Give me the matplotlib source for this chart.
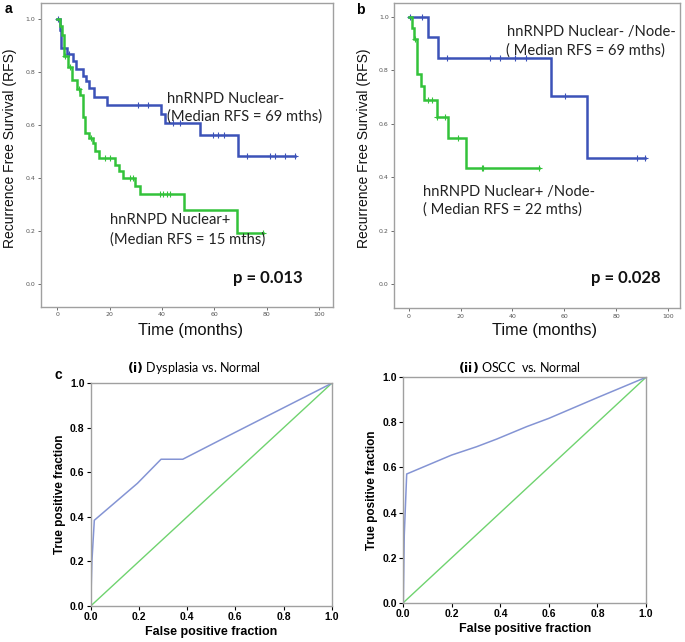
import numpy as np
import matplotlib
matplotlib.use("Agg")
import matplotlib.pyplot as plt

# ---------------- data ----------------
# Panel a: Kaplan-Meier, hnRNPD Nuclear- (blue) and Nuclear+ (green)
a_neg_t = [0, 1, 1.5, 3.6, 5.9, 7.2, 9.7, 10.9, 12.1, 14.1, 18.9, 39.5, 41.2, 54.5, 68.9]
a_neg_s = [1.0, 0.96, 0.89, 0.87, 0.84, 0.81, 0.785, 0.765, 0.738, 0.707, 0.677, 0.643, 0.609, 0.563, 0.483]
a_neg_end = 91
a_neg_cens = [0.5, 4.5, 31, 34.8, 44.3, 46.9, 59.6, 61.5, 63.7, 72.4, 81.3, 83.2, 87, 91]

a_pos_t = [0, 1.0, 1.8, 2.5, 4.2, 5.5, 7.6, 8.7, 9.7, 10.6, 12.2, 13.8, 14.6, 15.9, 22.0, 23.7, 25.0, 29.7, 31.8, 48.5, 68.8]
a_pos_s = [1.0, 0.975, 0.94, 0.86, 0.82, 0.77, 0.735, 0.715, 0.63, 0.57, 0.55, 0.53, 0.50, 0.475, 0.45, 0.425, 0.40, 0.37, 0.34, 0.28, 0.19]
a_pos_end = 78.7
a_pos_cens = [2.8, 4.8, 8.2, 13.0, 18.2, 20.0, 27.8, 29.0, 39.3, 40.5, 41.8, 43.0, 78.7]

# Panel b: Node- subgroup
b_neg_t = [0, 7.3, 11.3, 54.7, 68.8]
b_neg_s = [1.0, 0.923, 0.846, 0.705, 0.47]
b_neg_end = 91
b_neg_cens = [0.6, 5.1, 14.7, 31.2, 35.3, 41.0, 45.3, 60.3, 87.8, 91]

b_pos_t = [0, 1.3, 1.9, 3.2, 4.9, 5.8, 10.9, 15.0, 22.2]
b_pos_s = [1.0, 0.956, 0.915, 0.786, 0.74, 0.69, 0.623, 0.545, 0.433]
b_pos_end = 50.2
b_pos_cens = [2.3, 7.3, 9.0, 10.9, 14.1, 19.2, 28.2, 28.8, 50.2]

# Panel c: ROC curves
roc1_fpr = [0, 0.005, 0.015, 0.194, 0.292, 0.382, 0.6, 1.0]
roc1_tpr = [0, 0.2, 0.385, 0.551, 0.659, 0.659, 0.78, 1.0]
roc2_fpr = [0, 0.004, 0.014, 0.199, 0.302, 0.385, 0.508, 0.6, 0.8, 1.0]
roc2_tpr = [0, 0.3, 0.571, 0.655, 0.692, 0.726, 0.781, 0.818, 0.91, 1.0]
diag = [0, 1]

km_xticks = [0, 20, 40, 60, 80, 100]
km_yticks = [0.0, 0.2, 0.4, 0.6, 0.8, 1.0]
roc_ticks = [0.0, 0.2, 0.4, 0.6, 0.8, 1.0]

# ---------------- style ----------------
W, H = 685, 642
BLUE = "#3c52b8"
GREEN = "#33c23a"
RBLUE = "#8494d4"
RGREEN = "#6fd36f"
FRAME = "#a0a0a0"
ANN = "Lato"
ANNSIZE = 10.6

fig = plt.figure(figsize=(W / 100, H / 100), dpi=100)


def axes_px(l, t, r, b):
    return fig.add_axes([l / W, 1 - b / H, (r - l) / W, (b - t) / H])


def km_curve(ax, t, s, end, cens, color):
    tt = list(t) + [end]
    ss = list(s) + [s[-1]]
    ax.step(tt, ss, where="post", color=color, lw=1.8, solid_joinstyle="miter")
    cy = [s[np.searchsorted(t, c, side="right") - 1] for c in cens]
    ax.plot(cens, cy, ls="none", marker="+", ms=4, mew=0.8, color=color)


def km_style(ax, xlim, ylim):
    ax.set_xlim(*xlim)
    ax.set_ylim(*ylim)
    ax.set_xticks(km_xticks)
    ax.set_yticks(km_yticks)
    ax.set_yticklabels([f"{v:.1f}" for v in km_yticks])
    ax.tick_params(labelsize=4.5, labelcolor="#555555", color="#555555", length=2.5, width=0.6, pad=1.5)
    for sp in ax.spines.values():
        sp.set_color(FRAME)
        sp.set_linewidth(1.0)


def note(ax, x, y, s, **kw):
    ax.text(x, y, s, fontsize=ANNSIZE, family=ANN, va="center", ha="left", color="#222222", **kw)


# Panel a
axa = axes_px(40.7, 3.3, 333.3, 306.7)
km_curve(axa, a_neg_t, a_neg_s, a_neg_end, a_neg_cens, BLUE)
km_curve(axa, a_pos_t, a_pos_s, a_pos_end, a_pos_cens, GREEN)
km_style(axa, (-6.3, 105.5), (-0.087, 1.06))
note(axa, 41.9, 0.70, "hnRNPD Nuclear-")
note(axa, 41.9, 0.63, "(Median RFS = 69 mths)")
note(axa, 20.1, 0.24, "hnRNPD Nuclear+")
note(axa, 20.1, 0.166, "(Median RFS = 15 mths)")
axa.text(67.1, 0.023, "p = 0.013", fontsize=12, family=ANN, weight="bold", va="center", ha="left", color="#111111")

# Panel b
axb = axes_px(394.3, 3.3, 680, 308.3)
km_curve(axb, b_neg_t, b_neg_s, b_neg_end, b_neg_cens, BLUE)
km_curve(axb, b_pos_t, b_pos_s, b_pos_end, b_pos_cens, GREEN)
km_style(axb, (-5.5, 104.5), (-0.091, 1.05))
note(axb, 38.0, 0.943, "hnRNPD Nuclear- /Node-")
note(axb, 37.4, 0.875, "( Median RFS = 69 mths)")
note(axb, 5.6, 0.344, "hnRNPD Nuclear+ /Node-")
note(axb, 5.6, 0.277, "( Median RFS = 22 mths)")
axb.text(70.1, 0.022, "p = 0.028", fontsize=12, family=ANN, weight="bold", va="center", ha="left", color="#111111")


# KM axis labels (figure pixel coords)
def ftext(x, y, s, **kw):
    fig.text(x / W, 1 - y / H, s, **kw)


for x in (10, 364):
    ftext(x, 148, "Recurrence Free Survival (RFS)", fontsize=10, family="Liberation Sans",
          rotation=90, ha="center", va="center", color="#111111")
ftext(191, 331, "Time (months)", fontsize=11.8, family="Liberation Sans", ha="center", va="center", color="#111111")
ftext(545, 331, "Time (months)", fontsize=11.8, family="Liberation Sans", ha="center", va="center", color="#111111")

ftext(8, 9, "a", fontsize=10, weight="bold", family="Liberation Sans", ha="center", va="center")
ftext(360, 10, "b", fontsize=10, weight="bold", family="Liberation Sans", ha="center", va="center")
ftext(58, 375, "c", fontsize=10, weight="bold", family="Liberation Sans", ha="center", va="center")


def roc_style(ax):
    ax.set_xlim(0, 1)
    ax.set_ylim(0, 1)
    ax.set_xticks(roc_ticks)
    ax.set_yticks(roc_ticks)
    ax.set_xticklabels([f"{v:.1f}" for v in roc_ticks])
    ax.set_yticklabels([f"{v:.1f}" for v in roc_ticks])
    ax.tick_params(labelsize=7.5, length=3, width=0.8, pad=1.5)
    for lab in ax.get_xticklabels() + ax.get_yticklabels():
        lab.set_fontweight("bold")
        lab.set_family("Liberation Sans")
    for sp in ax.spines.values():
        sp.set_color(FRAME)
        sp.set_linewidth(1.0)
    ax.set_xlabel("False positive fraction", fontsize=9, weight="bold", family="Liberation Sans", labelpad=3)
    ax.set_ylabel("True positive fraction", fontsize=8.5, weight="bold", family="Liberation Sans", labelpad=3)


axc1 = axes_px(90.7, 383.3, 331.7, 606)
axc1.plot(diag, diag, color=RGREEN, lw=1.0)
axc1.plot(roc1_fpr, roc1_tpr, color=RBLUE, lw=1.1)
roc_style(axc1)

axc2 = axes_px(403.3, 377.3, 646, 602.7)
axc2.plot(diag, diag, color=RGREEN, lw=1.0)
axc2.plot(roc2_fpr, roc2_tpr, color=RBLUE, lw=1.1)
roc_style(axc2)

ftext(194, 368, r"$\bf{(i)}$ Dysplasia vs. Normal", fontsize=9, family=ANN, ha="center", va="center")
ftext(519, 368, r"$\bf{(ii)}$ OSCC  vs. Normal", fontsize=9, family=ANN, ha="center", va="center")

fig.savefig("out.png", dpi=100)
